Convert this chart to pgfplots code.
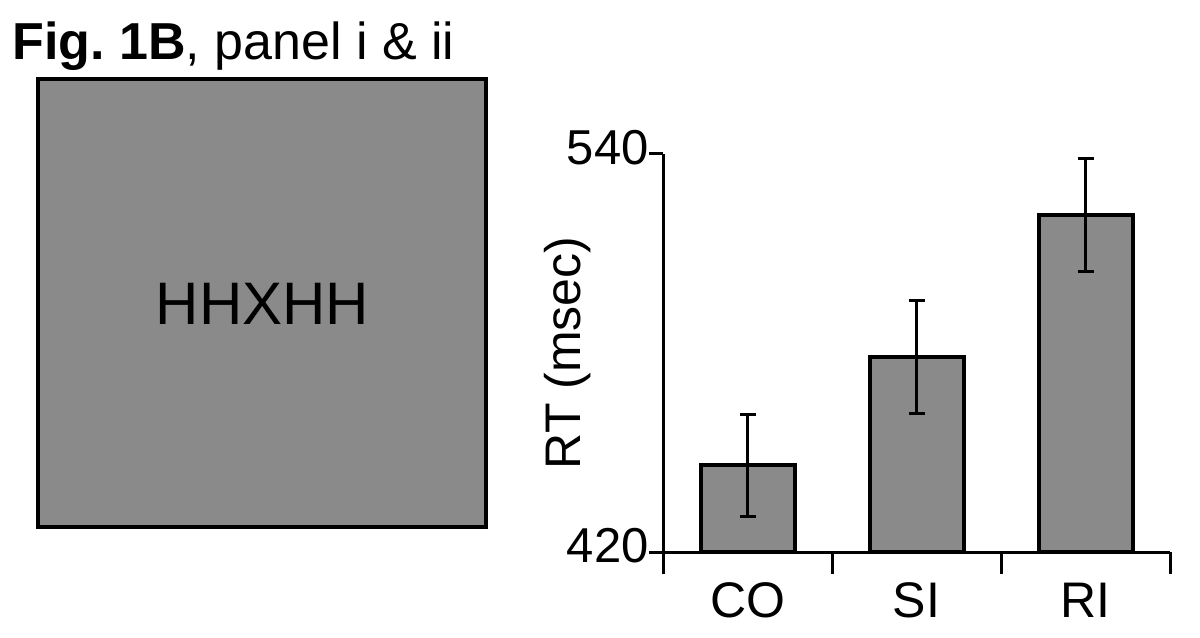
\documentclass[border=0pt]{standalone}
\usepackage{fontspec}
\setmainfont{Liberation Sans}
\usepackage{pgfplots}
\pgfplotsset{compat=1.18}
\definecolor{barGray}{HTML}{8A8A8A}

\begin{document}
\begin{tikzpicture}
\useasboundingbox (0,0) rectangle (600bp,319bp);
% panel i: title and stimulus square
\node[anchor=base west, inner sep=0pt, font=\fontsize{26bp}{30bp}\selectfont] at (6bp,289bp) {\textbf{Fig.\ 1B}, panel i \& ii};
\draw[line width=2bp, fill=barGray] (19bp,55.5bp) rectangle (243bp,279.5bp);
\node[anchor=base, inner sep=0pt, font=\fontsize{30bp}{36bp}\selectfont] at (131.25bp,156.5bp) {HHXHH};

% panel ii: RT bar chart
\begin{axis}[at={(331.5bp,43bp)}, anchor=south west, scale only axis,
  width=253.5bp, height=199bp,
  xmin=0.5, xmax=3.5, ymin=420, ymax=540,
  axis x line=bottom, axis y line=left,
  axis line style={-, line width=1.5bp}, axis on top,
  /pgf/number format/assume math mode=true,
  tick align=outside, tick style={line width=1.5bp, black},
  major tick length=11bp,
  ytick=\empty,
  extra y ticks={420,540}, extra y tick style={major tick length=7bp},
  yticklabel style={font=\fontsize{24.5bp}{28bp}\selectfont, inner sep=0pt, yshift=3bp},
  xtick={0.5,1.5,2.5,3.5}, xticklabels={},
  extra x ticks={1,2,3}, extra x tick labels={CO,SI,RI},
  extra x tick style={major tick length=0pt},
  xticklabel style={font=\fontsize{25bp}{30bp}\selectfont, anchor=base, inner sep=0pt, yshift=-32.5bp},
  ylabel={RT (msec)},
  ylabel style={at={(axis description cs:0,0.5)}, anchor=base, yshift=41.5bp, font=\fontsize{25bp}{30bp}\selectfont},
]
\addplot[ybar, bar width=47bp, fill=barGray, draw=black, line width=2bp,
  error bars/.cd, y dir=both, y explicit, error mark=-,
  error bar style={line width=1.5bp, black},
  error mark options={rotate=90, line width=1.5bp, mark size=4bp, black}]
  coordinates {(1,446.2) +- (0,15.4) (2,478.7) +- (0,17) (3,521.6) +- (0,17)};
\end{axis}
\end{tikzpicture}
\end{document}
